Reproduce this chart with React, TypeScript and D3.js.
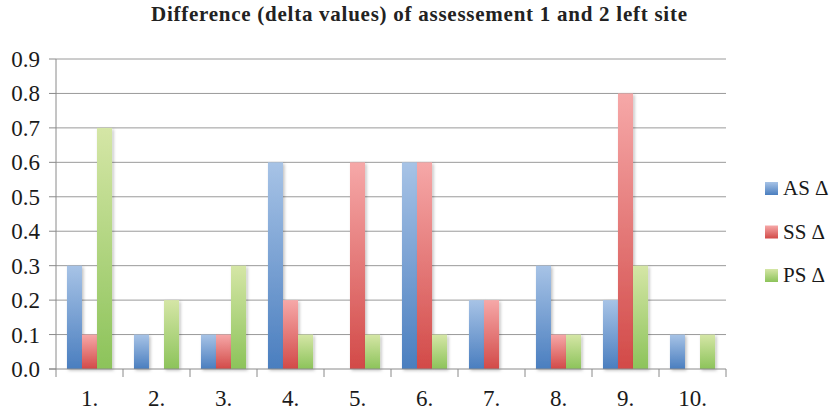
import { useRef, useEffect } from 'react';
import * as d3 from 'd3';

const categories = ['1.', '2.', '3.', '4.', '5.', '6.', '7.', '8.', '9.', '10.'];
const seriesNames = ['AS Δ', 'SS Δ', 'PS Δ'];
const asValues = [0.3, 0.1, 0.1, 0.6, 0, 0.6, 0.2, 0.3, 0.2, 0.1];
const ssValues = [0.1, 0, 0.1, 0.2, 0.6, 0.6, 0.2, 0.1, 0.8, 0];
const psValues = [0.7, 0.2, 0.3, 0.1, 0.1, 0.1, 0, 0.1, 0.3, 0.1];
const yTicks = [0, 0.1, 0.2, 0.3, 0.4, 0.5, 0.6, 0.7, 0.8, 0.9];

// light top, dark bottom like the old office gradient
const palette = [
  { light: '#a7c3e6', dark: '#4a7ebf' },
  { light: '#f6a8a8', dark: '#d24a48' },
  { light: '#d5e6a6', dark: '#8cc35a' },
];

const W = 831;
const H = 413;

function App() {
  const ref = useRef<SVGSVGElement>(null);

  useEffect(() => {
    const svg = d3.select(ref.current);
    svg.selectAll('*').remove();

    const left = 56, right = 726, top = 59, bottom = 369;
    const font = 'Liberation Serif';
    const series = [asValues, ssValues, psValues];

    const defs = svg.append('defs');
    palette.forEach((p, i) => {
      const g = defs.append('linearGradient')
        .attr('id', `grad${i}`)
        .attr('x1', 0).attr('y1', 0).attr('x2', 0).attr('y2', 1);
      g.append('stop').attr('offset', '0%').attr('stop-color', p.light);
      g.append('stop').attr('offset', '100%').attr('stop-color', p.dark);
    });
    const filter = defs.append('filter').attr('id', 'shadow')
      .attr('x', '-30%').attr('y', '-10%').attr('width', '160%').attr('height', '130%');
    filter.append('feDropShadow')
      .attr('dx', 1.5).attr('dy', 1.5).attr('stdDeviation', 1.5)
      .attr('flood-color', '#000').attr('flood-opacity', 0.25);

    const x = d3.scaleBand().domain(categories).range([left, right]).paddingInner(0).paddingOuter(0);
    const x1 = d3.scaleBand().domain(seriesNames).range([0, x.bandwidth()]).paddingOuter(0.73).paddingInner(0);
    const y = d3.scaleLinear().domain([0, 0.9]).range([bottom, top]);

    // gridlines + y ticks
    svg.append('g').selectAll('line')
      .data(yTicks.slice(1))
      .join('line')
      .attr('x1', left).attr('x2', right)
      .attr('y1', d => y(d)).attr('y2', d => y(d))
      .attr('stroke', '#9a9a9a').attr('stroke-width', 1);

    svg.append('g').selectAll('line')
      .data(yTicks)
      .join('line')
      .attr('x1', left - 7).attr('x2', left)
      .attr('y1', d => y(d)).attr('y2', d => y(d))
      .attr('stroke', '#8a8a8a');

    svg.append('g').selectAll('text')
      .data(yTicks)
      .join('text')
      .attr('x', 40).attr('y', d => y(d))
      .attr('dy', '0.35em')
      .attr('text-anchor', 'end')
      .style('font-family', font)
      .attr('font-size', 23)
      .attr('fill', '#1a1a1a')
      .text(d => d.toFixed(1));

    // bars
    const groups = svg.append('g').selectAll('g')
      .data(categories)
      .join('g')
      .attr('transform', d => `translate(${x(d)},0)`);

    groups.selectAll('rect')
      .data((_, i) => series.map((s, k) => ({ key: seriesNames[k], k, v: s[i] })).filter(d => d.v > 0))
      .join('rect')
      .attr('x', d => x1(d.key)!)
      .attr('width', x1.bandwidth())
      .attr('y', d => y(d.v))
      .attr('height', d => y(0) - y(d.v))
      .attr('fill', d => `url(#grad${d.k})`)
      .attr('filter', 'url(#shadow)');

    // axes lines
    svg.append('line')
      .attr('x1', left).attr('x2', left).attr('y1', top).attr('y2', bottom)
      .attr('stroke', '#8a8a8a');
    svg.append('line')
      .attr('x1', left - 7).attr('x2', right).attr('y1', bottom).attr('y2', bottom)
      .attr('stroke', '#8a8a8a');
    svg.append('g').selectAll('line')
      .data(d3.range(categories.length + 1))
      .join('line')
      .attr('x1', i => left + i * x.bandwidth()).attr('x2', i => left + i * x.bandwidth())
      .attr('y1', bottom).attr('y2', bottom + 8)
      .attr('stroke', '#8a8a8a');

    svg.append('g').selectAll('text')
      .data(categories)
      .join('text')
      .attr('x', d => x(d)! + x.bandwidth() / 2)
      .attr('y', 406)
      .attr('text-anchor', 'middle')
      .style('font-family', font)
      .attr('font-size', 23)
      .attr('fill', '#1a1a1a')
      .text(d => d);

    // title
    svg.append('text')
      .attr('x', 419).attr('y', 21)
      .attr('text-anchor', 'middle')
      .style('font-family', font)
      .attr('font-size', 21).attr('font-weight', 'bold')
      .attr('textLength', 536).attr('lengthAdjust', 'spacing')
      .attr('fill', '#222')
      .text('Difference (delta values) of assessement 1 and 2 left site');

    // legend
    const legend = svg.append('g').selectAll('g')
      .data(seriesNames)
      .join('g')
      .attr('transform', (_, i) => `translate(765, ${188 + i * 43.5})`);
    legend.append('rect')
      .attr('x', 0).attr('y', -6).attr('width', 13).attr('height', 13)
      .attr('fill', (_, i) => `url(#grad${i})`);
    legend.append('text')
      .attr('x', 18).attr('y', 0).attr('dy', '0.35em')
      .style('font-family', font)
      .attr('font-size', 21)
      .attr('fill', '#1a1a1a')
      .text(d => d);
  }, []);

  return (
    <svg ref={ref} width={W} height={H} viewBox={`0 0 ${W} ${H}`}
      style={{ position: 'absolute', left: 0, top: 0, background: '#fff' }} />
  );
}

export default App;
